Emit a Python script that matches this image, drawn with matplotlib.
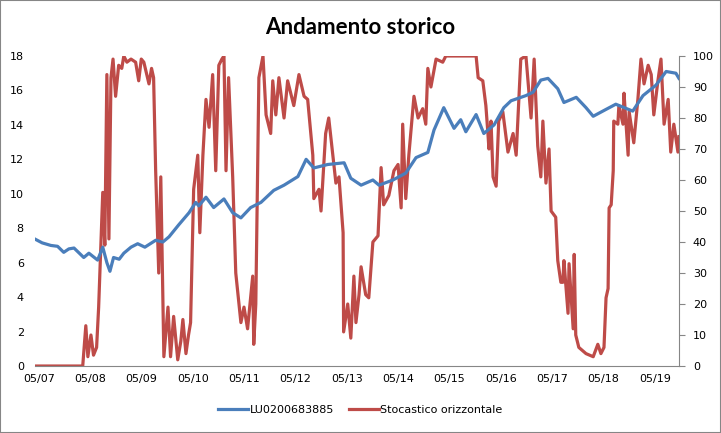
import matplotlib.pyplot as plt
from matplotlib.patches import Rectangle

# time as decimal years
fund_t = [2007.26, 2007.40, 2007.57, 2007.70, 2007.82, 2007.92, 2008.02, 2008.21, 2008.31, 2008.48,
          2008.58, 2008.66, 2008.72, 2008.79, 2008.90, 2008.99, 2009.13, 2009.26, 2009.40, 2009.61,
          2009.75, 2009.87, 2010.06, 2010.26, 2010.39, 2010.45, 2010.59, 2010.74, 2010.94, 2011.11,
          2011.27, 2011.46, 2011.66, 2011.91, 2012.11, 2012.38, 2012.54, 2012.69, 2012.96, 2013.28,
          2013.41, 2013.61, 2013.84, 2013.96, 2014.23, 2014.48, 2014.68, 2014.91, 2015.03, 2015.22,
          2015.42, 2015.55, 2015.65, 2015.85, 2016.00, 2016.20, 2016.39, 2016.53, 2016.82, 2016.96,
          2017.11, 2017.25, 2017.44, 2017.56, 2017.80, 2017.99, 2018.13, 2018.38, 2018.57, 2018.90,
          2019.10, 2019.35, 2019.55, 2019.74, 2019.80]
fund_v = [7.37, 7.15, 7.0, 6.95, 6.6, 6.8, 6.85, 6.3, 6.55, 6.15,
          6.9, 6.0, 5.5, 6.3, 6.2, 6.55, 6.9, 7.1, 6.9, 7.3,
          7.2, 7.5, 8.2, 8.9, 9.5, 9.3, 9.8, 9.2, 9.7, 8.9,
          8.6, 9.2, 9.5, 10.2, 10.5, 11.0, 12.0, 11.5, 11.7, 11.8,
          10.9, 10.5, 10.8, 10.5, 10.8, 11.2, 12.1, 12.4, 13.7, 15.0,
          13.8, 14.3, 13.6, 14.6, 13.5, 14.0, 15.0, 15.4, 15.7, 15.9,
          16.6, 16.7, 16.1, 15.3, 15.6, 15.0, 14.5, 14.9, 15.2, 14.8,
          15.7, 16.3, 17.1, 17.0, 16.7]

stoch_t = [2007.26, 2008.19, 2008.25, 2008.29, 2008.35, 2008.40, 2008.46, 2008.50, 2008.58, 2008.62,
           2008.66, 2008.70, 2008.74, 2008.78, 2008.83, 2008.89, 2008.95, 2008.99, 2009.05, 2009.13,
           2009.22, 2009.28, 2009.33, 2009.38, 2009.48, 2009.53, 2009.57, 2009.61, 2009.67, 2009.71,
           2009.77, 2009.85, 2009.90, 2009.96, 2010.04, 2010.10, 2010.14, 2010.20, 2010.25, 2010.29,
           2010.35, 2010.43, 2010.47, 2010.53, 2010.59, 2010.65, 2010.72, 2010.78, 2010.84, 2010.90,
           2010.94, 2010.98, 2011.03, 2011.11, 2011.17, 2011.27, 2011.33, 2011.40, 2011.50, 2011.52,
           2011.56, 2011.62, 2011.70, 2011.76, 2011.85, 2011.89, 2011.95, 2012.01, 2012.11, 2012.18,
           2012.30, 2012.40, 2012.50, 2012.57, 2012.67, 2012.69, 2012.79, 2012.83, 2012.92, 2012.98,
           2013.06, 2013.12, 2013.18, 2013.26, 2013.27, 2013.35, 2013.41, 2013.47, 2013.51, 2013.57,
           2013.61, 2013.70, 2013.76, 2013.84, 2013.94, 2014.00, 2014.05, 2014.15, 2014.25, 2014.33,
           2014.39, 2014.42, 2014.48, 2014.54, 2014.64, 2014.72, 2014.81, 2014.87, 2014.91, 2014.97,
           2015.07, 2015.20, 2015.26, 2015.85, 2015.89, 2015.98, 2016.04, 2016.08, 2016.10, 2016.14,
           2016.18, 2016.24, 2016.29, 2016.37, 2016.47, 2016.57, 2016.63, 2016.72, 2016.82, 2016.92,
           2016.98, 2017.05, 2017.11, 2017.15, 2017.21, 2017.27, 2017.31, 2017.40, 2017.44, 2017.50,
           2017.54, 2017.56, 2017.64, 2017.66, 2017.74, 2017.76, 2017.79, 2017.85, 2017.99, 2018.13,
           2018.22, 2018.28, 2018.34, 2018.38, 2018.42, 2018.44, 2018.48, 2018.52, 2018.53, 2018.61,
           2018.63, 2018.71, 2018.73, 2018.81, 2018.83, 2018.92, 2019.00, 2019.06, 2019.12, 2019.20,
           2019.26, 2019.31, 2019.39, 2019.45, 2019.51, 2019.59, 2019.64, 2019.70, 2019.78, 2019.80]
stoch_v = [0, 0, 13, 3, 10, 3.5, 6, 19, 56, 39,
           94, 41, 93, 99, 87, 97, 96, 100, 98, 99,
           98, 92, 99, 98, 91, 96, 93, 63, 30, 61,
           3, 19, 3, 16, 2, 8, 15, 4, 10, 14,
           57, 68, 43, 68, 86, 77, 94, 63, 97, 99,
           100, 63, 93, 61, 30, 14, 19, 12, 29, 7,
           20, 93, 100, 81, 75, 92, 81, 93, 80, 92,
           84, 94, 87, 86, 68, 54, 57, 50, 75, 80,
           68, 59, 61, 43, 11, 20, 9, 29, 14, 23,
           32, 23, 22, 40, 42, 64, 52, 55, 63, 65,
           51, 78, 54, 68, 87, 80, 83, 78, 96, 90,
           99, 98, 100, 100, 93, 92, 84, 75, 70, 79,
           61, 58, 79, 82, 69, 75, 68, 99, 100, 80,
           99, 71, 61, 79, 59, 70, 50, 48, 34, 27,
           27, 34, 17, 33, 12, 36, 10, 6, 4, 3,
           7, 4, 6, 22, 25, 51, 52, 63, 79, 78,
           84, 78, 88, 68, 82, 72, 86, 99, 91, 97,
           94, 81, 92, 99, 78, 86, 69, 78, 69, 74]

year_ticks = [2007 + 4 / 12 + k for k in range(13)]
year_labels = ["05/%02d" % (7 + k) for k in range(13)]
left_ticks = list(range(0, 19, 2))
right_ticks = list(range(0, 101, 10))

blue = "#4A7EBB"
red = "#BE4B48"
grey = "#868686"

fig = plt.figure(figsize=(7.21, 4.33), dpi=100)
ax = fig.add_axes([0.0485, 0.1547, 0.8932, 0.716])
ax2 = ax.twinx()

l1, = ax.plot(fund_t, fund_v, color=blue, lw=2.3, label="LU0200683885", zorder=3)
l2, = ax2.plot(stoch_t, stoch_v, color=red, lw=2.3, label="Stocastico orizzontale")
ax.set_zorder(ax2.get_zorder() + 1)
ax.patch.set_visible(False)

ax.set_xlim(2007.26, 2019.80)
ax.set_ylim(0, 18)
ax2.set_ylim(0, 100)
ax.set_xticks(year_ticks)
ax.set_xticklabels(year_labels)
ax.set_yticks(left_ticks)
ax2.set_yticks(right_ticks)

for a in (ax, ax2):
    for s in a.spines.values():
        s.set_visible(False)
ax.spines["bottom"].set_visible(True)
ax.spines["bottom"].set_color(grey)
ax2.spines["right"].set_visible(True)
ax2.spines["right"].set_color(grey)

ax.tick_params(axis="x", length=0, pad=6, labelsize=8, colors="black")
ax.tick_params(axis="y", length=0, pad=8, labelsize=8)
ax2.tick_params(axis="y", length=4, color=grey, pad=6, labelsize=8)

fig.text(0.5, 0.937, "Andamento storico", ha="center", va="center",
         fontsize=16, fontweight="bold", family="Lato")

fig.legend(handles=[l1, l2], loc="center", bbox_to_anchor=(0.5, 0.053), ncol=2,
           frameon=False, fontsize=8, handlelength=2.7, handletextpad=0.1,
           columnspacing=1.4)

fig.patches.append(Rectangle((0, 0), 1, 1, transform=fig.transFigure, fill=False,
                             edgecolor=grey, lw=1.5))

fig.savefig("out.png", dpi=100)
